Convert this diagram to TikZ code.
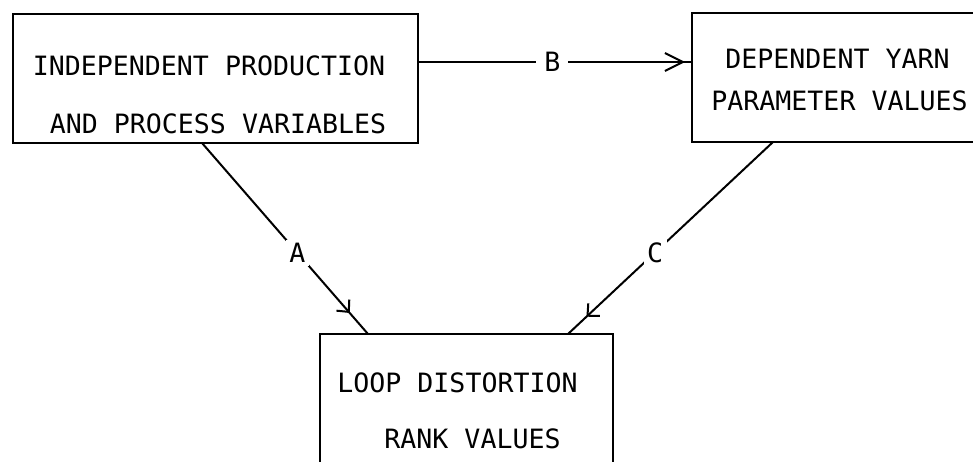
\documentclass[tikz,border=0pt]{standalone}
\usepackage{fontspec}
\setmonofont{DejaVu Sans Mono}
\usetikzlibrary{arrows.meta,decorations.markings}
\begin{document}
\begin{tikzpicture}[x=1pt,y=-1pt,
  box/.style={draw,line width=2pt,inner sep=0pt,outer sep=0pt},
  txt/.style={font=\fontsize{26.6pt}{30pt}\selectfont\ttfamily,inner sep=0pt,anchor=base},
  lab/.style={font=\fontsize{26.6pt}{30pt}\selectfont\ttfamily,fill=white,inner sep=3.5pt},
  conn/.style={line width=2pt},
  midtip/.style n args={3}{postaction={decorate},decoration={markings,
     mark=at position #1 with {\arrow[line width=2pt]{Straight Barb[length=#2pt,width=#3pt]}}}}]
\useasboundingbox (0,0) rectangle (973,461);
\clip (0,0) rectangle (973,461);
% boxes
\node[box,minimum width=405pt,minimum height=129pt] (b1) at (215.5,78.5) {};
\node[box,minimum width=308pt,minimum height=129pt] (b2) at (846,77.5) {};
\node[box,minimum width=293pt,minimum height=186pt] (b3) at (466.5,427) {};
% texts
\node[txt] (t1a) at (209,75) {INDEPENDENT PRODUCTION};
\node[txt] (t1b) at (218,133) {AND PROCESS VARIABLES};
\node[txt] (t2a) at (837.5,68) {DEPENDENT YARN};
\node[txt] (t2b) at (839.5,110) {PARAMETER VALUES};
\node[txt] (t3a) at (457.5,392) {LOOP DISTORTION};
\node[txt] (t3b) at (472.5,448) {RANK VALUES};
% connector end points
\coordinate (a1) at (202,143);
\coordinate (a2) at (368,334);
\coordinate (c1) at (773,142);
\coordinate (c2) at (568,334);
\coordinate (p1) at (418,62);
\coordinate (p2) at (692,62);
% connectors
\draw[conn,midtip={0.89}{9}{17}] (a1) -- node[lab,pos=0.575] (la) {A} (a2);
\draw[conn,midtip={0.91}{9}{17}] (c1) -- node[lab,pos=0.575] (lc) {C} (c2);
\draw[conn,midtip={0.975}{18}{18}] (p1) -- node[lab,pos=0.49,inner xsep=8pt,inner ysep=2pt] (lb) {B} (p2);
\end{tikzpicture}
\end{document}
